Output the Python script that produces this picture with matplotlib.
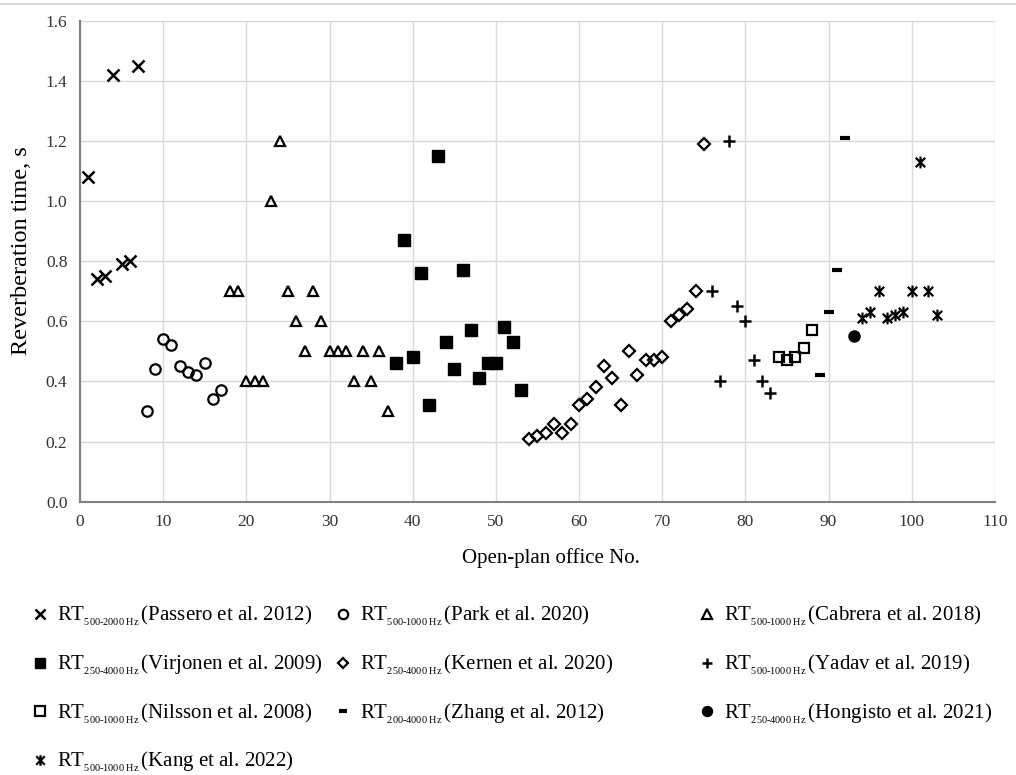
import matplotlib
matplotlib.use('Agg')
import matplotlib.pyplot as plt
from matplotlib.path import Path
from matplotlib.lines import Line2D

plt.rcParams['font.family'] = ['Liberation Serif', 'DejaVu Serif']
plt.rcParams['mathtext.fontset'] = 'custom'
plt.rcParams['mathtext.rm'] = 'Liberation Serif'
plt.rcParams['mathtext.it'] = 'Liberation Serif:italic'

# data: office number and RT (s)
passero_x = [1, 2, 3, 4, 5, 6, 7]
passero_y = [1.08, 0.74, 0.75, 1.42, 0.79, 0.80, 1.45]

park_x = [8, 9, 10, 11, 12, 13, 14, 15, 16, 17]
park_y = [0.30, 0.44, 0.54, 0.52, 0.45, 0.43, 0.42, 0.46, 0.34, 0.37]

cabrera_x = list(range(18, 38))
cabrera_y = [0.70, 0.70, 0.40, 0.40, 0.40, 1.00, 1.20, 0.70, 0.60, 0.50,
             0.70, 0.60, 0.50, 0.50, 0.50, 0.40, 0.50, 0.40, 0.50, 0.30]

virjonen_x = list(range(38, 54))
virjonen_y = [0.46, 0.87, 0.48, 0.76, 0.32, 1.15, 0.53, 0.44, 0.77, 0.57,
              0.41, 0.46, 0.46, 0.58, 0.53, 0.37]

kernen_x = list(range(54, 76))
kernen_y = [0.21, 0.22, 0.23, 0.26, 0.23, 0.26, 0.32, 0.34, 0.38, 0.45, 0.41,
            0.32, 0.50, 0.42, 0.47, 0.47, 0.48, 0.60, 0.62, 0.64, 0.70, 1.19]

yadav_x = [76, 77, 78, 79, 80, 81, 82, 83]
yadav_y = [0.70, 0.40, 1.20, 0.65, 0.60, 0.47, 0.40, 0.36]

nilsson_x = [84, 85, 86, 87, 88]
nilsson_y = [0.48, 0.47, 0.48, 0.51, 0.57]

zhang_x = [89, 90, 91, 92]
zhang_y = [0.42, 0.63, 0.77, 1.21]

hongisto_x = [93]
hongisto_y = [0.55]

kang_x = [94, 95, 96, 97, 98, 99, 100, 101, 102, 103]
kang_y = [0.61, 0.63, 0.70, 0.61, 0.62, 0.63, 0.70, 1.13, 0.70, 0.62]

# asterisk marker: x plus vertical bar
star = Path([(-1, -1), (1, 1), (-1, 1), (1, -1), (0, -1.25), (0, 1.25)],
            [Path.MOVETO, Path.LINETO, Path.MOVETO, Path.LINETO, Path.MOVETO, Path.LINETO])

def lab(band, ref):
    # nested subscript gives the small, low "500-2000 Hz" of the original
    sub = band.replace('-', r'\text{-}') + r'\ Hz'
    return r'RT$_{{}_{\mathrm{' + sub + r'}}}\,$(' + ref + ')'

series = [
    (passero_x, passero_y, dict(marker='x', ms=8.5, mew=1.8, mfc='none'), lab('500-2000', 'Passero et al. 2012')),
    (park_x, park_y, dict(marker='o', ms=7.5, mew=1.6, mfc='none'), lab('500-1000', 'Park et al. 2020')),
    (cabrera_x, cabrera_y, dict(marker='^', ms=7.5, mew=1.6, mfc='none'), lab('500-1000', 'Cabrera et al. 2018')),
    (virjonen_x, virjonen_y, dict(marker='s', ms=8, mew=1, mfc='black'), lab('250-4000', 'Virjonen et al. 2009')),
    (kernen_x, kernen_y, dict(marker='D', ms=6, mew=1.6, mfc='none'), lab('250-4000', 'Kernen et al. 2020')),
    (yadav_x, yadav_y, dict(marker='+', ms=8.5, mew=1.8), lab('500-1000', 'Yadav et al. 2019')),
    (nilsson_x, nilsson_y, dict(marker='s', ms=7.5, mew=1.6, mfc='none'), lab('500-1000', 'Nilsson et al. 2008')),
    (zhang_x, zhang_y, dict(marker='_', ms=7, mew=3), lab('200-4000', 'Zhang et al. 2012')),
    (hongisto_x, hongisto_y, dict(marker='o', ms=8, mew=1, mfc='black'), lab('250-4000', 'Hongisto et al. 2021')),
    (kang_x, kang_y, dict(marker=star, ms=8.5, mew=1.6), lab('500-1000', 'Kang et al. 2022')),
]

fig = plt.figure(figsize=(10.16, 7.75), dpi=100)
ax = fig.add_axes([0.0787, 0.3527, 0.9006, 0.6206])

handles = []
for xs, ys, st, label in series:
    h, = ax.plot(xs, ys, linestyle='none', color='black', mec='black', label=label, **st)
    handles.append(h)

ax.set_xlim(0, 110)
ax.set_ylim(0, 1.6)
ax.set_xticks(range(0, 111, 10))
ax.set_yticks([i / 10 for i in range(0, 17, 2)])
ax.set_yticklabels(['%.1f' % (i / 10) for i in range(0, 17, 2)])
ax.grid(True, color='#d9d9d9', linewidth=1)
ax.set_axisbelow(True)
for s in ['top', 'right']:
    ax.spines[s].set_visible(False)
for s in ['left', 'bottom']:
    ax.spines[s].set_color('#7f7f7f')
    ax.spines[s].set_linewidth(1.5)
ax.tick_params(length=0, labelsize=12.5, colors='#333333', pad=9)
ax.set_xlabel('Open-plan office No.', fontsize=15)
ax.xaxis.set_label_coords(0.515, -0.096)
ax.set_ylabel('Reverberation time, s', fontsize=17.5)
ax.yaxis.set_label_coords(-0.0525, 0.521)

# legend in three fixed columns below the plot
cols = [[0, 3, 6, 9], [1, 4, 7], [2, 5, 8]]
col_x = [0.029, 0.327, 0.686]
for c, xpos in zip(cols, col_x):
    fig.legend([handles[i] for i in c], [handles[i].get_label() for i in c],
               loc='upper left', bbox_to_anchor=(xpos, 0.2205), frameon=False,
               fontsize=15, handlelength=1.0, handletextpad=0.32,
               labelspacing=1.18, borderpad=0, borderaxespad=0, markerscale=0.9)

fig.add_artist(Line2D([0, 1], [0.995, 0.995], color='#d9d9d9', linewidth=1.5))

fig.savefig('out.png', dpi=100)
